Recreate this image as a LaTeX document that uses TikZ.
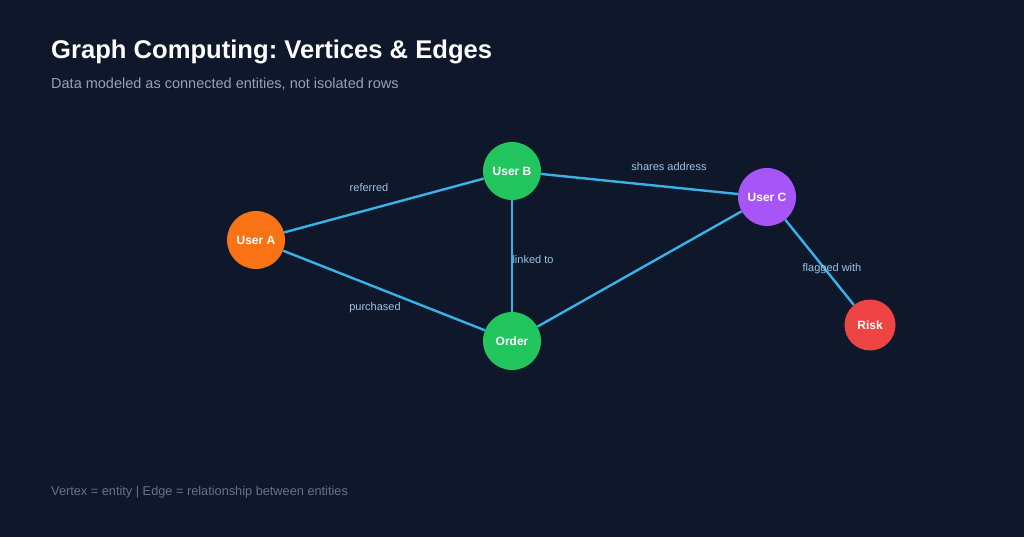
\documentclass[tikz,border=0pt]{standalone}
\usepackage{fontspec}
\setmainfont{Liberation Sans}
\usetikzlibrary{positioning}
\frenchspacing

\definecolor{bgdark}{HTML}{0F172A}
\definecolor{edgeblue}{HTML}{38B2E8}
\definecolor{labelblue}{HTML}{9DC4E2}
\definecolor{subgray}{HTML}{94A3B8}
\definecolor{footgray}{HTML}{64748B}
\definecolor{useror}{HTML}{F97316}
\definecolor{nodegreen}{HTML}{22C55E}
\definecolor{userpurple}{HTML}{A855F7}
\definecolor{riskred}{HTML}{EF4444}

\tikzset{
  vertex/.style={circle, inner sep=0pt, minimum size=58pt, text=white, font=\fontsize{12}{14}\selectfont\bfseries},
  link/.style={draw=edgeblue, line width=2.4pt},
  rel/.style={text=labelblue, font=\fontsize{11}{13}\selectfont},
  heading/.style={anchor=base west, inner sep=0pt}
}

\begin{document}
\begin{tikzpicture}[x=1pt, y=-1pt]

\fill[bgdark] (0,0) rectangle (1024,537);
\useasboundingbox (0,0) rectangle (1024,537);

%Titles
\node (title) at (51,59) [heading, text=white, font=\fontsize{25.6}{30}\selectfont\bfseries] {Graph Computing: Vertices \& Edges};
\node (sub) at (51,89) [heading, text=subgray, font=\fontsize{14.5}{17}\selectfont] {Data modeled as connected entities, not isolated rows};

%Nodes
\node (A) at (256,240) [vertex, fill=useror] {User A};
\node (B) at (512,171) [vertex, fill=nodegreen] {User B};
\node (O) at (512,341) [vertex, fill=nodegreen] {Order};
\node (C) at (767,197) [vertex, fill=userpurple] {User C};
\node (R) at (870,325) [vertex, fill=riskred, minimum size=51pt] {Risk};

%Edges
\draw[link] (A) -- (B);
\draw[link] (A) -- (O);
\draw[link] (B) -- (O);
\draw[link] (B) -- (C);
\draw[link] (O) -- (C);
\draw[link] (C) -- (R);

%Labels
\node (lab1) at (369,188) [rel] {referred};
\node (lab2) at (375,308) [rel] {purchased};
\node (lab3) at (533,260) [rel] {linked to};
\node (lab4) at (669,167) [rel] {shares address};
\node (lab5) at (832,269) [rel] {flagged with};

\node (foot) at (51,495) [heading, text=footgray, font=\fontsize{12.75}{15}\selectfont] {Vertex = entity | Edge = relationship between entities};

\end{tikzpicture}
\end{document}
